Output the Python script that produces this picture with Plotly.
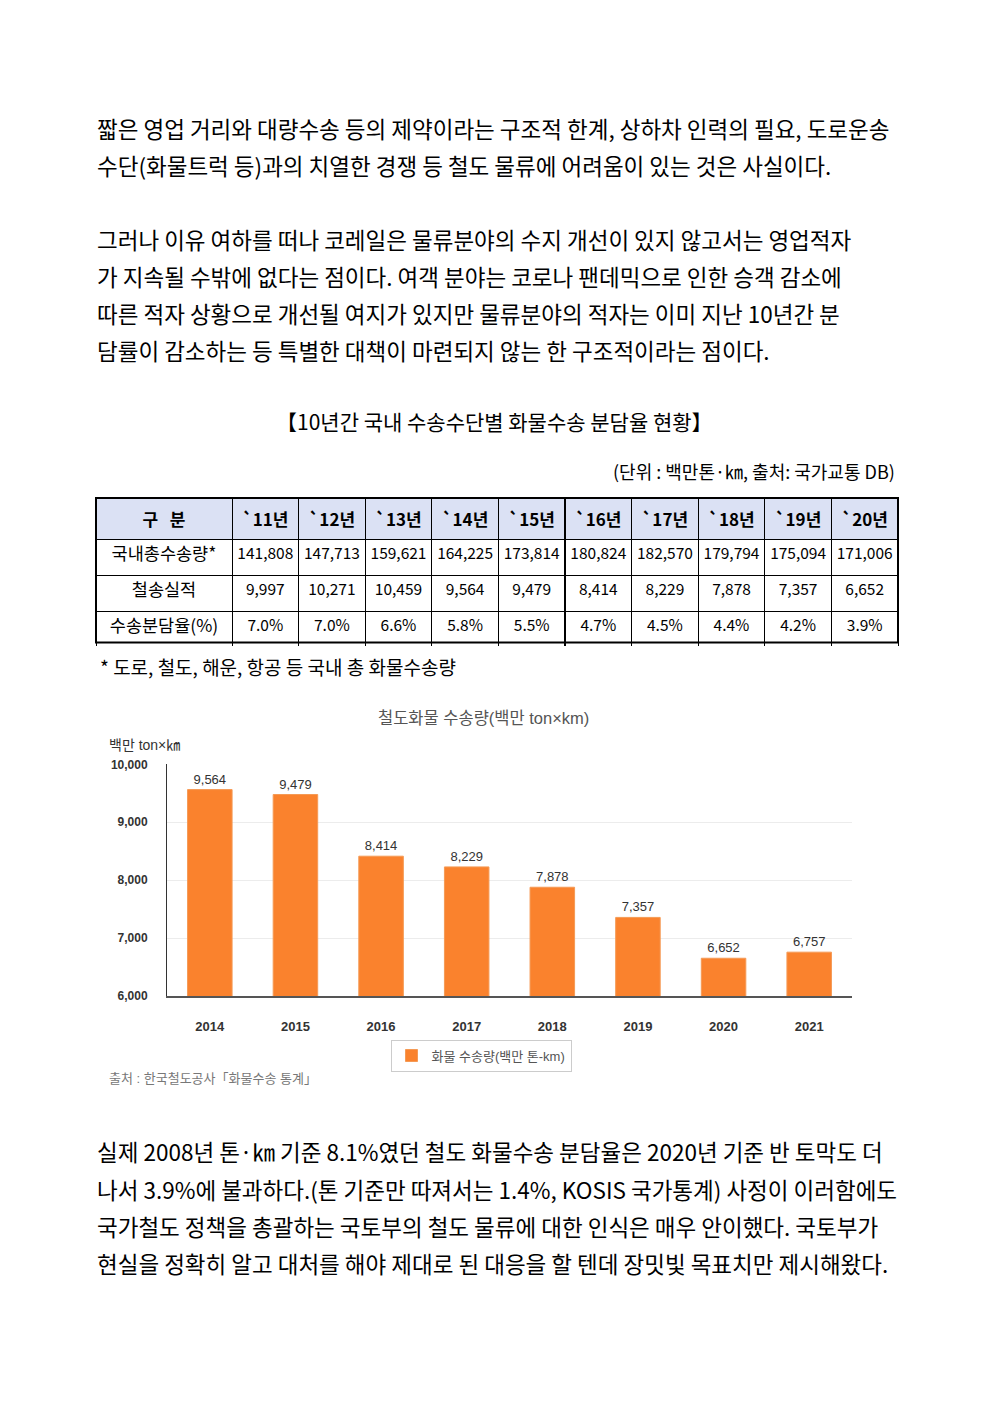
import plotly.graph_objects as go

# page size minus the 8px body margin on each side
FW, FH = 976, 1387
OFF = 8

# --- data ---
table_years = ["`11년", "`12년", "`13년", "`14년", "`15년", "`16년", "`17년", "`18년", "`19년", "`20년"]
total_volume = [141808, 147713, 159621, 164225, 173814, 180824, 182570, 179794, 175094, 171006]
rail_volume = [9997, 10271, 10459, 9564, 9479, 8414, 8229, 7878, 7357, 6652]
rail_share = [7.0, 7.0, 6.6, 5.8, 5.5, 4.7, 4.5, 4.4, 4.2, 3.9]
row_labels = ["국내총수송량*", "철송실적", "수송분담율(%)"]

chart_years = ["2014", "2015", "2016", "2017", "2018", "2019", "2020", "2021"]
chart_values = [9564, 9479, 8414, 8229, 7878, 7357, 6652, 6757]

para1 = [
    "짧은 영업 거리와 대량수송 등의 제약이라는 구조적 한계, 상하차 인력의 필요, 도로운송",
    "수단(화물트럭 등)과의 치열한 경쟁 등 철도 물류에 어려움이 있는 것은 사실이다.",
]
para2 = [
    "그러나 이유 여하를 떠나 코레일은 물류분야의 수지 개선이 있지 않고서는 영업적자",
    "가 지속될 수밖에 없다는 점이다. 여객 분야는 코로나 팬데믹으로 인한 승객 감소에",
    "따른 적자 상황으로 개선될 여지가 있지만 물류분야의 적자는 이미 지난 10년간 분",
    "담률이 감소하는 등 특별한 대책이 마련되지 않는 한 구조적이라는 점이다.",
]
para3 = [
    "실제 2008년 톤·㎞ 기준 8.1%였던 철도 화물수송 분담율은 2020년 기준 반 토막도 더",
    "나서 3.9%에 불과하다.(톤 기준만 따져서는 1.4%, KOSIS 국가통계) 사정이 이러함에도",
    "국가철도 정책을 총괄하는 국토부의 철도 물류에 대한 인식은 매우 안이했다. 국토부가",
    "현실을 정확히 알고 대처를 해야 제대로 된 대응을 할 텐데 장밋빛 목표치만 제시해왔다.",
]


def px(x):
    return (x - OFF) / FW


def py(y):
    return 1 - (y - OFF) / FH


KR = "Noto Sans CJK KR"
CHART_FONT = "Liberation Sans, Noto Sans CJK KR"

fig = go.Figure()

# table
fig.add_trace(go.Table(
    domain=dict(x=[px(96), px(898)], y=[py(646), py(496)]),
    columnwidth=[136] + [66.6] * len(table_years),
    header=dict(
        values=["<b>구   분</b>"] + ["<b>%s</b>" % y for y in table_years],
        fill_color="#dbe1f4",
        line=dict(color="black", width=1),
        align="center",
        height=39,
        font=dict(family=KR, size=17, color="black"),
    ),
    cells=dict(
        values=[row_labels] + [
            ["{:,}".format(t), "{:,}".format(r), "{:.1f}%".format(s)]
            for t, r, s in zip(total_volume, rail_volume, rail_share)
        ],
        fill_color="white",
        line=dict(color="black", width=1),
        align="center",
        height=36,
        font=dict(family=KR, size=[17.5] + [15.5] * len(table_years), color="black"),
    ),
))

# bar chart
fig.add_trace(go.Bar(
    x=chart_years,
    y=chart_values,
    name="화물 수송량(백만 톤-km)",
    marker=dict(color="#fa822d", line=dict(color="#f59a55", width=1)),
    texttemplate="%{y:,}",
    textposition="outside",
    textfont=dict(family=CHART_FONT, size=13, color="#333"),
    cliponaxis=False,
    width=0.52,
))

fig.update_xaxes(
    domain=[px(167), px(852)],
    showline=True, linecolor="#555", linewidth=2,
    showgrid=False, ticks="",
    ticklabelstandoff=17,
    tickfont=dict(family=CHART_FONT, size=13, color="#333", weight="bold"),
)
fig.update_yaxes(
    domain=[py(999), py(765)],
    range=[6000, 10000], dtick=1000, tickformat=",",
    showline=True, linecolor="#333", linewidth=1,
    gridcolor="#ececec", gridwidth=1,
    ticks="", ticklabelstandoff=16,
    tickfont=dict(family=CHART_FONT, size=12, color="#333", weight="bold"),
    zeroline=False,
)

annotations = []


def add_text(x, y, text, size, color="black", family=KR, xanchor="left"):
    annotations.append(dict(
        x=px(x), y=py(y), xref="paper", yref="paper", text=text,
        showarrow=False, xanchor=xanchor, yanchor="middle",
        font=dict(family=family, size=size, color=color),
    ))


for i, line in enumerate(para1):
    add_text(95, 122 + i * 37.5, line, 22.5)
for i, line in enumerate(para2):
    add_text(95, 234 + i * 37.5, line, 22.5)
for i, line in enumerate(para3):
    add_text(95, 1156 + i * 37.5, line, 22.5)

add_text(494, 418, "【10년간 국내 수송수단별 화물수송 분담율 현황】", 21, xanchor="center")
add_text(897, 469, "(단위 : 백만톤·㎞, 출처: 국가교통 DB)", 18, xanchor="right")
add_text(98, 666, "* 도로, 철도, 해운, 항공 등 국내 총 화물수송량", 19)

add_text(483, 718, "철도화물 수송량(백만 ton×km)", 16.5, color="#555", family=CHART_FONT, xanchor="center")
add_text(107, 745, "백만 ton×㎞", 14, color="#333", family=CHART_FONT)
add_text(107, 1082, "출처 : 한국철도공사「화물수송 통계」", 13, color="#777", family=CHART_FONT)

fig.update_layout(
    width=FW, height=FH,
    margin=dict(l=0, r=0, t=0, b=0),
    paper_bgcolor="white", plot_bgcolor="white",
    annotations=annotations,
    showlegend=True,
    legend=dict(
        orientation="h", x=px(481), xanchor="center", y=py(1043), yanchor="top",
        bordercolor="#cccccc", borderwidth=1,
        font=dict(family=CHART_FONT, size=13, color="#555"),
    ),
    shapes=[dict(
        type="rect", xref="paper", yref="paper",
        x0=px(96), x1=px(898), y0=py(642), y1=py(496),
        line=dict(color="black", width=2),
    )],
)

fig.write_html("out.html")
